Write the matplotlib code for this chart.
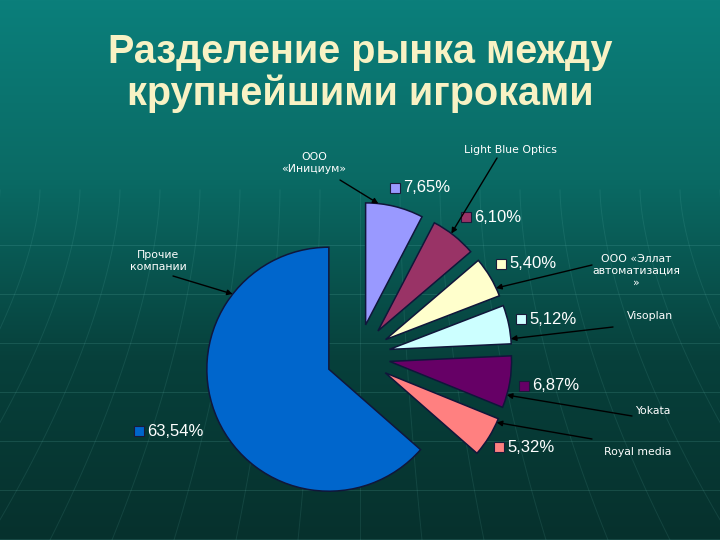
import numpy as np
import matplotlib.pyplot as plt
from matplotlib.colors import LinearSegmentedColormap

# данные
companies = ['ООО\n«Инициум»', 'Light Blue Optics', 'ООО «Эллат\nавтоматизация\n»',
             'Visoplan', 'Yokata', 'Royal media', 'Прочие\nкомпании']
shares = [7.65, 6.10, 5.40, 5.12, 6.87, 5.32, 63.54]
share_labels = ['7,65%', '6,10%', '5,40%', '5,12%', '6,87%', '5,32%', '63,54%']
colors = ['#9999ff', '#993366', '#ffffcc', '#ccffff', '#660066', '#ff8080', '#0066cc']

# раскладка (в пикселях картинки, y сверху вниз)
W, H = 720, 540
def Y(y):
    return H - y

pct_pos = [(395, 188), (466, 217), (501, 264), (521, 319), (524, 386), (499, 447), (139, 431)]
name_pos = [(314, 163), (510, 150), (636, 271), (650, 316), (653, 411), (638, 452), (158, 261)]
arrow_tail = [(340, 180), (497, 158), (592, 265), (613, 327), (632, 416), (592, 439), (173, 276)]
arrow_angle = [84, 53, 25, 5, -16, -24, 142]

fig = plt.figure(figsize=(7.2, 5.4), dpi=100)
ax = fig.add_axes([0, 0, 1, 1])

# фон
bg = LinearSegmentedColormap.from_list('bg', ['#0b7f7b', '#0a6a64', '#07403b', '#06312d'])
grad = np.linspace(0, 1, 256).reshape(-1, 1)
ax.imshow(grad, cmap=bg, extent=[0, W, 0, H], aspect='auto', zorder=0, origin='upper')

# бледная сетка
for yy in np.arange(245, 540, 49):
    ax.plot([0, W], [Y(yy), Y(yy)], color='#7fd6cc', lw=0.7, alpha=0.15, zorder=1)
t = np.linspace(0, 1, 60)
for k in np.arange(-14, 15):
    x_top = 360 + k * 40
    x_bot = 360 + k * 62
    yy = 190 + t * 350
    xx = x_top + (x_bot - x_top) * t ** 1.6
    ax.plot(xx, [Y(v) for v in yy], color='#7fd6cc', lw=0.7, alpha=0.11, zorder=1)

# круговая диаграмма
explode = [32] * len(shares)
wedges, _ = ax.pie(shares, colors=colors, startangle=90, counterclock=False,
                   explode=explode, radius=122, center=(358, Y(356)),
                   wedgeprops=dict(edgecolor='#10163a', linewidth=1.1))
for w in wedges:
    w.set_zorder(3)

# подписи процентов
for (sx, sy), lab, c in zip(pct_pos, share_labels, colors):
    ax.plot(sx, Y(sy), marker='s', ms=6.5, mfc=c, mec='#1a1a3a', mew=0.8, zorder=5)
    ax.text(sx + 8, Y(sy), lab, color='white', fontsize=12, family='Liberation Sans',
            ha='left', va='center', zorder=5)

# подписи компаний со стрелками
for w, name, (nx, ny), tail, ang in zip(wedges, companies, name_pos, arrow_tail, arrow_angle):
    cx, cy = w.center
    tip = (cx + w.r * np.cos(np.radians(ang)), cy + w.r * np.sin(np.radians(ang)))
    ax.annotate('', xy=tip, xytext=(tail[0], Y(tail[1])),
                arrowprops=dict(arrowstyle='-|>', color='black', lw=1.0,
                                mutation_scale=8, shrinkA=0, shrinkB=0), zorder=6)
    ax.text(nx, Y(ny), name, color='white', fontsize=7.8, family='DejaVu Sans',
            ha='center', va='center', linespacing=1.25, zorder=5)

# заголовок
ax.text(360, Y(73), 'Разделение рынка между\nкрупнейшими игроками', color='#f8f2c4',
        fontsize=28.5, fontweight='bold', family='Liberation Sans',
        ha='center', va='center', linespacing=1.12, zorder=5)

ax.set_xlim(0, W)
ax.set_ylim(0, H)
ax.axis('off')

plt.savefig('out.png', dpi=100)
